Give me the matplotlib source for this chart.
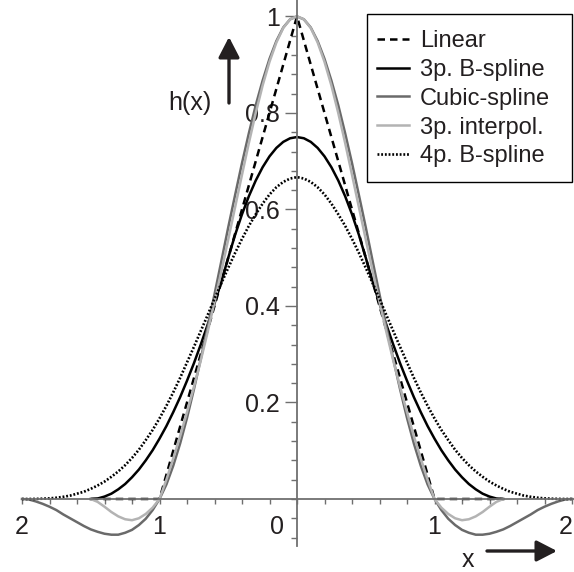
import matplotlib.pyplot as plt
import numpy as np

plt.rcParams['font.family'] = ['Liberation Sans', 'DejaVu Sans']

x_linear = [0.0, 1.0, 1.5]
h_linear = [1.0, 0.0, 0.0]

x_half = [0.0, 0.05, 0.1, 0.15, 0.2, 0.25, 0.3, 0.35, 0.4, 0.45, 0.5,
          0.55, 0.6, 0.65, 0.7, 0.75, 0.8, 0.85, 0.9, 0.95, 1.0,
          1.05, 1.1, 1.15, 1.2, 1.25, 1.3, 1.35, 1.4, 1.45, 1.5,
          1.55, 1.6, 1.65, 1.7, 1.75, 1.8, 1.85, 1.9, 1.95, 2.0]
x_short = x_half[:31]

h_bspline3 = [0.75, 0.7475, 0.74, 0.7275, 0.71, 0.6875, 0.66, 0.6275, 0.59, 0.5475, 0.5,
              0.451, 0.405, 0.361, 0.32, 0.281, 0.245, 0.211, 0.18, 0.151, 0.125,
              0.101, 0.08, 0.061, 0.045, 0.031, 0.02, 0.011, 0.005, 0.001, 0.0]
h_cubic = [1.0, 0.994, 0.977, 0.949, 0.912, 0.867, 0.816, 0.758, 0.696, 0.630, 0.563,
           0.493, 0.424, 0.356, 0.290, 0.227, 0.168, 0.115, 0.069, 0.030, 0.0,
           -0.023, -0.041, -0.054, -0.064, -0.070, -0.074, -0.074, -0.072, -0.068, -0.063,
           -0.056, -0.048, -0.040, -0.032, -0.023, -0.016, -0.010, -0.005, -0.001, 0.0]
h_interp3 = [1.0, 0.994, 0.976, 0.946, 0.906, 0.857, 0.80, 0.738, 0.672, 0.605, 0.538,
             0.472, 0.408, 0.346, 0.287, 0.232, 0.180, 0.130, 0.084, 0.040, 0.0,
             -0.018, -0.031, -0.040, -0.044, -0.042, -0.036, -0.027, -0.016, -0.006, 0.0]
h_bspline4 = [0.667, 0.664, 0.657, 0.646, 0.631, 0.612, 0.590, 0.566, 0.539, 0.510, 0.479,
              0.447, 0.415, 0.381, 0.348, 0.315, 0.283, 0.251, 0.221, 0.193, 0.167,
              0.143, 0.122, 0.102, 0.085, 0.070, 0.057, 0.046, 0.036, 0.028, 0.021,
              0.015, 0.011, 0.007, 0.0045, 0.0026, 0.0013, 0.0006, 0.0002, 0.0, 0.0]

labels = ["Linear", "3p. B-spline", "Cubic-spline", "3p. interpol.", "4p. B-spline"]
y_ticks = [0.2, 0.4, 0.6, 0.8, 1.0]
y_ticklabels = ["0.2", "0.4", "0.6", "0.8", "1"]
x_ticks = [-2, -1, 0, 1, 2]
x_ticklabels = ["2", "1", "0", "1", "2"]

ink = '#231f20'
axis_gray = '#6f6f6f'


def mirror(xs, hs):
    """Builds the full curve from the half that was read"""
    xs = np.asarray(xs)
    hs = np.asarray(hs)
    return np.concatenate([-xs[:0:-1], xs]), np.concatenate([hs[:0:-1], hs])


fig = plt.figure(figsize=(5.74, 5.72), dpi=100)
ax = fig.add_axes([0, 0, 1, 1])

# 137.5 px per unit in x, 482.5 px per unit in y
ax.set_xlim(-2.16, 2.0145)
ax.set_ylim(-0.1513, 1.034)

lw = 1.8
ax.plot(*mirror(x_linear, h_linear), color='black', lw=lw, ls=(0, (3, 2)), label=labels[0])
ax.plot(*mirror(x_short, h_bspline3), color='black', lw=lw, label=labels[1])
ax.plot(*mirror(x_half, h_cubic), color='#6a6a6a', lw=lw, label=labels[2])
ax.plot(*mirror(x_short, h_interp3), color='#b3b3b3', lw=lw, label=labels[3])
ax.plot(*mirror(x_half, h_bspline4), color='black', lw=1.9, ls=(0, (0.7, 0.7)), label=labels[4])

# axes crossing at the origin
for side in ['top', 'right']:
    ax.spines[side].set_visible(False)
ax.spines['left'].set_position(('data', 0))
ax.spines['bottom'].set_position(('data', 0))
ax.spines['left'].set_bounds(-0.097, 1.034)
ax.spines['bottom'].set_bounds(-2, 2.0145)
for side in ['left', 'bottom']:
    ax.spines[side].set_color(axis_gray)
    ax.spines[side].set_linewidth(1.3)

ax.set_yticks(y_ticks)
ax.set_yticklabels(y_ticklabels)
ax.set_yticks([v for v in np.arange(-0.08, 1.001, 0.04) if min(abs(v - t) for t in y_ticks) > 1e-6],
              minor=True)
ax.tick_params(axis='y', which='major', direction='out', length=8.5, width=1.0,
               color=axis_gray, pad=4, labelsize=18, labelcolor=ink)
ax.tick_params(axis='y', which='minor', direction='out', length=4.3, width=1.0, color=axis_gray)

ax.set_xticks([])
ax.set_xticks(np.arange(-2, 2.01, 0.2), minor=True)
ax.tick_params(axis='x', which='minor', direction='out', length=3.8, width=1.0, color=axis_gray)

for xv, lab in zip(x_ticks, x_ticklabels):
    if xv == 0:
        ax.text(-0.145, -0.058, lab, ha='center', va='center', fontsize=18, color=ink)
    elif xv == 2:
        # keep the last label just inside the right edge
        fig.text(573 / 574, 1 - 527 / 572, lab, ha='right', va='center', fontsize=18, color=ink)
    else:
        ax.text(xv, -0.058, lab, ha='center', va='center', fontsize=18, color=ink)

# axis names with arrows
fig.text(212 / 574, 1 - 103 / 572, "h(x)", ha='right', va='center', fontsize=18, color=ink)
fig.text(468 / 574, 1 - 567 / 572, "x", ha='center', va='baseline', fontsize=18, color=ink)
arrow = dict(arrowstyle='-|>,head_length=0.62,head_width=0.32', mutation_scale=20,
             lw=2.4, color=ink, shrinkA=0, shrinkB=0)
ax.annotate('', xy=(229, 572 - 37), xytext=(229, 572 - 103),
            xycoords='figure pixels', textcoords='figure pixels', arrowprops=arrow)
ax.annotate('', xy=(557, 572 - 551), xytext=(487, 572 - 551),
            xycoords='figure pixels', textcoords='figure pixels', arrowprops=arrow)

# legend: entries placed without frame, box drawn separately
leg = ax.legend(loc='upper left', bbox_to_anchor=(377 / 574, 1 - 30 / 572),
                bbox_transform=fig.transFigure, borderaxespad=0, borderpad=0, fontsize=17,
                handlelength=1.36, handletextpad=0.47, labelspacing=0.29, frameon=False)
for t in leg.get_texts():
    t.set_color(ink)
fig.add_artist(plt.Rectangle((367 / 574, 1 - 182 / 572), 205 / 574, 168 / 572,
                             transform=fig.transFigure, fill=False, edgecolor='black', lw=1.0))

fig.savefig('out.png', dpi=100)
